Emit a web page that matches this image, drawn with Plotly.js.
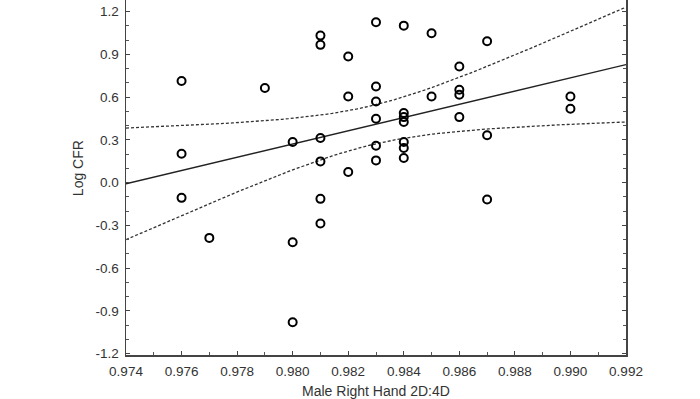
<!DOCTYPE html>
<html>
<head>
<meta charset="utf-8">
<script src="https://cdn.plot.ly/plotly-3.0.1.min.js"></script>
<style>
  html, body { margin: 0; padding: 0; background: #ffffff; }
  #chart { width: 700px; height: 399px; }
</style>
</head>
<body>
<div id="chart"></div>
<script>
// ---- Data ----
const digitRatio = [
  0.976, 0.976, 0.976,
  0.977,
  0.979,
  0.980, 0.980, 0.980,
  0.981, 0.981, 0.981, 0.981, 0.981, 0.981,
  0.982, 0.982, 0.982,
  0.983, 0.983, 0.983, 0.983, 0.983, 0.983,
  0.984, 0.984, 0.984, 0.984, 0.984, 0.984, 0.984,
  0.985, 0.985,
  0.986, 0.986, 0.986, 0.986,
  0.987, 0.987, 0.987,
  0.990, 0.990
];
const logCFR = [
  0.713, 0.203, -0.107,
  -0.388,
  0.664,
  0.285, -0.418, -0.980,
  1.032, 0.967, 0.313, 0.149, -0.114, -0.287,
  0.885, 0.605, 0.075,
  1.126, 0.675, 0.570, 0.448, 0.259, 0.156,
  1.102, 0.488, 0.460, 0.425, 0.285, 0.243, 0.173,
  1.049, 0.605,
  0.815, 0.652, 0.617, 0.460,
  0.993, 0.332, -0.119,
  0.605, 0.519
];

const xTickVals = [0.974, 0.976, 0.978, 0.980, 0.982, 0.984, 0.986, 0.988, 0.990, 0.992];
const xTickText = ['0.974', '0.976', '0.978', '0.980', '0.982', '0.984', '0.986', '0.988', '0.990', '0.992'];
const yTickVals = [-1.2, -0.9, -0.6, -0.3, 0.0, 0.3, 0.6, 0.9, 1.2];
const yTickText = ['-1.2', '-0.9', '-0.6', '-0.3', '0.0', '0.3', '0.6', '0.9', '1.2'];

const xTitle = 'Male Right Hand 2D:4D';
const yTitle = 'Log CFR';
const T_CRIT = 2.0227; // t(0.975, df = n - 2 = 39)

// ---- Linear regression with 95% confidence band, computed from the data ----
const n = digitRatio.length;
const xbar = digitRatio.reduce((a, b) => a + b, 0) / n;
const ybar = logCFR.reduce((a, b) => a + b, 0) / n;
let sxx = 0, sxy = 0;
for (let i = 0; i < n; i++) {
  sxx += (digitRatio[i] - xbar) ** 2;
  sxy += (digitRatio[i] - xbar) * (logCFR[i] - ybar);
}
const slope = sxy / sxx;
const intercept = ybar - slope * xbar;
let sse = 0;
for (let i = 0; i < n; i++) {
  const r = logCFR[i] - (intercept + slope * digitRatio[i]);
  sse += r * r;
}
const s = Math.sqrt(sse / (n - 2));

const xMin = xTickVals[0], xMax = xTickVals[xTickVals.length - 1];
const gridX = [], fitY = [], upY = [], loY = [];
const steps = 80;
for (let k = 0; k <= steps; k++) {
  const x = xMin + (xMax - xMin) * k / steps;
  const yhat = intercept + slope * x;
  const hw = T_CRIT * s * Math.sqrt(1 / n + (x - xbar) ** 2 / sxx);
  gridX.push(x); fitY.push(yhat); upY.push(yhat + hw); loY.push(yhat - hw);
}

const traces = [
  { x: gridX, y: upY, mode: 'lines', line: { color: '#333', width: 1.3, dash: '3px,2px' }, hoverinfo: 'skip' },
  { x: gridX, y: loY, mode: 'lines', line: { color: '#333', width: 1.3, dash: '3px,2px' }, hoverinfo: 'skip' },
  { x: gridX, y: fitY, mode: 'lines', line: { color: '#222', width: 1.4 }, hoverinfo: 'skip' },
  { x: digitRatio, y: logCFR, mode: 'markers', cliponaxis: false,
    marker: { symbol: 'circle-open', size: 8, color: '#000', line: { width: 2, color: '#000' } } }
];

const fontFam = 'Liberation Sans, Arial, sans-serif';
const layout = {
  width: 700, height: 399,
  margin: { l: 126, r: 74, t: 0, b: 44 },
  paper_bgcolor: '#fff', plot_bgcolor: '#fff',
  showlegend: false,
  font: { family: fontFam, size: 13, color: '#333' },
  xaxis: {
    range: [xMin, xMax],
    tickmode: 'array', tickvals: xTickVals, ticktext: xTickText,
    ticks: 'inside', ticklen: 4, tickwidth: 1, tickcolor: '#444',
    minor: { tickmode: 'linear', tick0: 0.974, dtick: 0.001, ticks: 'inside', ticklen: 3, tickcolor: '#555', showgrid: false },
    showline: true, linecolor: '#444', linewidth: 1.5, mirror: false,
    showgrid: false, zeroline: false,
    tickfont: { family: fontFam, size: 13.5, color: '#333' },
    ticklabelstandoff: 3,
    title: { text: xTitle, font: { family: fontFam, size: 14, color: '#333' }, standoff: 10 }
  },
  yaxis: {
    range: [-1.21, 1.282],
    tickmode: 'array', tickvals: yTickVals, ticktext: yTickText,
    ticks: 'inside', ticklen: 4, tickwidth: 1, tickcolor: '#444',
    minor: { tickmode: 'linear', tick0: 0, dtick: 0.1, ticks: 'inside', ticklen: 3, tickcolor: '#555', showgrid: false },
    showline: true, linecolor: '#444', linewidth: 1.5, mirror: 'ticks',
    showgrid: false, zeroline: false,
    tickfont: { family: fontFam, size: 13.5, color: '#333' },
    ticklabelstandoff: 3
  },
  annotations: [
    { text: yTitle, xref: 'paper', yref: 'paper', x: -0.097, y: 0.525, xanchor: 'center', yanchor: 'middle',
      textangle: -90, showarrow: false, font: { family: fontFam, size: 14, color: '#333' } }
  ]
};

Plotly.newPlot('chart', traces, layout, { staticPlot: true, displayModeBar: false });
</script>
</body>
</html>
